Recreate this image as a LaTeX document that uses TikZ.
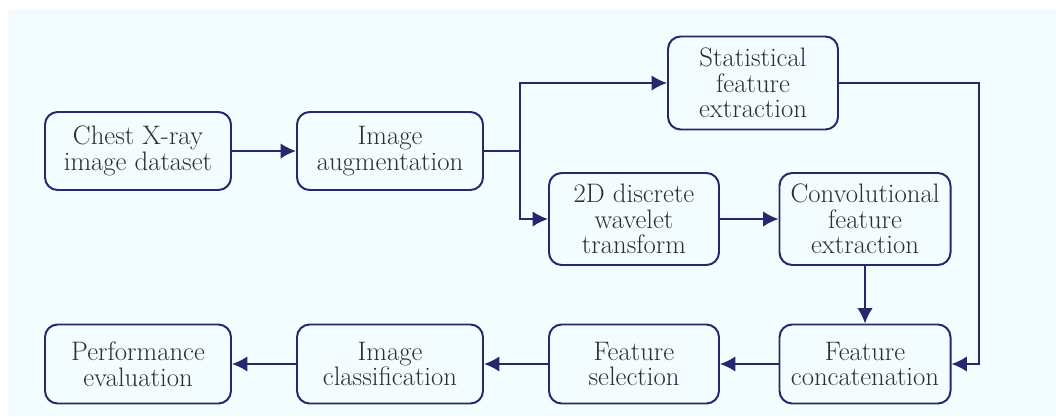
\documentclass[tikz,border=0pt]{standalone}
\usepackage{tikz}
\usepackage{xcolor}
\definecolor{navy}{RGB}{36,40,108}
\definecolor{txtgray}{RGB}{45,45,50}
\definecolor{paleblue}{RGB}{243,252,254}
\tikzset{stage/.style={draw=navy,line width=1.4pt,rounded corners=9pt,
   align=center,text=txtgray,inner sep=0pt,
   font=\fontsize{19}{18.2}\selectfont},
 flow/.style={draw=navy,line width=1.4pt,-{Latex[length=11pt,width=11pt]}},
 }
\usetikzlibrary{arrows.meta}

\begin{document}
\begin{tikzpicture}[x=0.025cm,y=-0.025cm]
        \useasboundingbox (0,0) rectangle (1056,416);
        \fill[paleblue] (8,9) rectangle (1056,416);
        \node[stage, minimum width=186*0.025cm, minimum height=78*0.025cm] (dataset) at (138,151) {Chest X-ray\\image dataset};
        \node[stage, minimum width=186*0.025cm, minimum height=78*0.025cm] (augment) at (390,151) {Image\\augmentation};
        \node[stage, minimum width=170*0.025cm, minimum height=93*0.025cm] (statfeat) at (753,83) {Statistical\\feature\\extraction};
        \node[stage, minimum width=170*0.025cm, minimum height=92*0.025cm] (wavelet) at (634,219) {2D discrete\\wavelet\\transform};
        \node[stage, minimum width=171*0.025cm, minimum height=92*0.025cm] (convfeat) at (865,219) {Convolutional\\feature\\extraction};
        \node[stage, minimum width=171*0.025cm, minimum height=79*0.025cm] (concat) at (865,364) {Feature\\concatenation};
        \node[stage, minimum width=170*0.025cm, minimum height=79*0.025cm] (select) at (634,364) {Feature\\selection};
        \node[stage, minimum width=186*0.025cm, minimum height=79*0.025cm] (classify) at (390,364) {Image\\classification};
        \node[stage, minimum width=186*0.025cm, minimum height=79*0.025cm] (perform) at (138,364) {Performance\\evaluation};
        \coordinate (fork) at (520,151);
        \coordinate (loop) at (979,83);
        \draw[flow] (dataset) -- (augment);
        \draw[navy,line width=1.4pt] (augment) -- (fork);
        \draw[flow] (fork) |- (statfeat);
        \draw[flow] (fork) |- (wavelet);
        \draw[flow] (wavelet) -- (convfeat);
        \draw[flow] (convfeat) -- (concat);
        \draw[flow] (statfeat) -- (loop) |- (concat);
        \draw[flow] (concat) -- (select);
        \draw[flow] (select) -- (classify);
        \draw[flow] (classify) -- (perform);
    \end{tikzpicture}
\end{document}
